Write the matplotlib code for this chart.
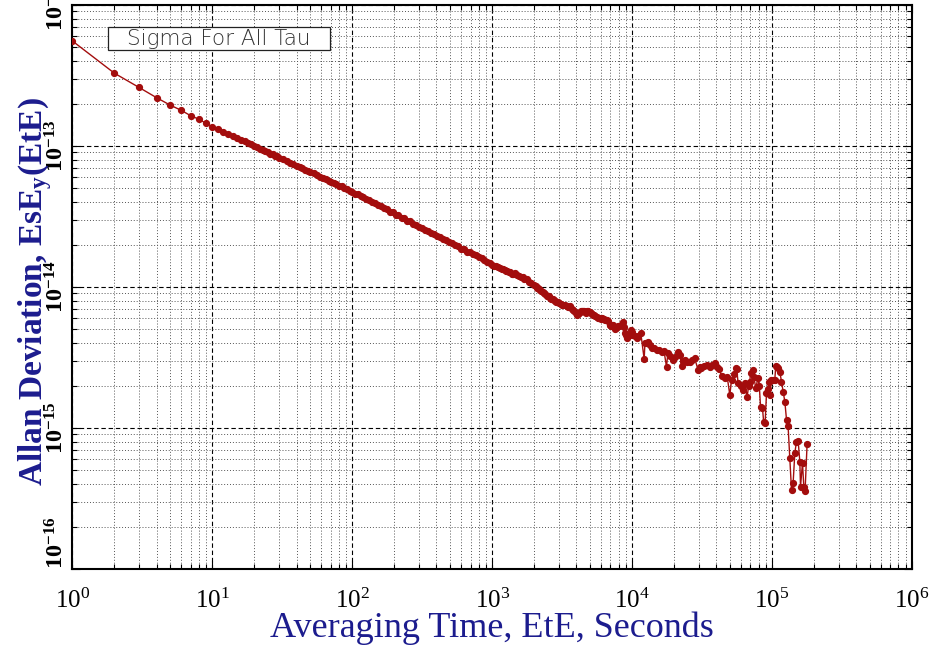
import numpy as np
import matplotlib
matplotlib.use("Agg")
import matplotlib.pyplot as plt
from matplotlib.patches import Rectangle
from matplotlib.ticker import LogLocator, FuncFormatter, NullFormatter

# averaging time tau (s) and Allan deviation (units of 1e-15)
tau = [
    1, 2, 3, 4, 5, 6, 7, 8, 9, 10,
    11, 12, 13, 14, 15, 16, 17, 18, 19, 20, 21, 22, 23, 24, 25, 26, 27, 28, 29, 30,
    32, 34, 36, 38, 40, 42, 44, 46, 48, 50, 53, 56, 59, 62, 65, 68, 71, 74, 77, 80,
    84, 88, 92, 96, 100,
    105, 110, 115, 120, 126, 132, 138, 145, 152, 160, 168, 176, 185, 194, 204, 214,
    225, 236, 248, 260, 273, 287, 301, 316, 332, 349, 366, 385, 404, 424, 445, 467,
    490, 515, 541, 568, 596, 626, 657, 690, 725, 761, 799, 839, 881, 925, 971, 1000,
    1035, 1070, 1100, 1135, 1170, 1200, 1225, 1250, 1280, 1310, 1340, 1376, 1410, 1450,
    1500, 1550, 1600, 1650, 1700, 1760, 1830, 1900, 2000, 2040, 2080, 2120, 2160, 2200,
    2250, 2300, 2350, 2400, 2450, 2500, 2550, 2600, 2650, 2700, 2760, 2820, 2880, 2940,
    3000, 3080, 3150, 3220, 3300, 3400, 3490, 3600, 3700, 3780, 3850, 3950, 4030, 4080,
    4150, 4220, 4300, 4380, 4470, 4530, 4600, 4680, 4750, 4870, 4990, 5070, 5150, 5220,
    5300, 5430, 5570, 5690, 5800, 5950, 6100, 6200, 6300, 6430, 6560, 6700, 6930, 7000,
    7100, 7200, 7310, 7490, 7650, 7800, 7950, 8100, 8300, 8540, 8700, 8870, 9050, 9210,
    9500, 9740, 9900, 10000,
    10400, 10750, 11100, 11530, 12190, 12340, 12700, 13010, 13400, 13760, 14300, 14940,
    15500, 16230, 16900, 17600, 18000, 18700, 19640, 20400, 21300, 21900, 22540, 23100,
    23780, 24800, 25810, 26900, 28030, 29580, 30400, 31300, 32600, 33990, 35900, 37400,
    38990, 40700, 42000, 43550, 45930, 47800, 49880, 51290, 53000, 55030, 56000, 57130,
    59500, 62080, 64000, 66240, 68000, 69290, 70130, 72440, 74000, 76500, 79080, 81000,
    82650, 85370, 87000, 89130, 91180, 93000, 95200, 96300, 99000, 101500, 104500, 106200,
    108000, 110300, 113500, 116700, 119900, 123300, 126800, 130100, 133800, 137600, 141300,
    145300, 149300, 153500, 157800, 159600, 164900, 168400, 172000, 177800,
]
adev_e15 = [
    556, 328, 260, 220, 195, 179, 164, 155, 145, 137,
    131.5, 126, 122, 117.6, 114.3, 110.7, 108.2, 105.1, 102.9, 99.8, 97.9, 95.5, 93.9, 91.7, 90.4, 88.3, 87.2, 85.3, 84.4, 82.6,
    80.6, 78.0, 76.3, 74.0, 72.7, 70.7, 69.6, 67.7, 66.8, 65.2, 63.8, 61.8, 60.7, 59.0, 58.1, 56.5, 55.8, 54.3, 53.7, 52.4,
    51.6, 50.1, 49.5, 48.1, 47.5,
    46.0, 45.3, 43.9, 43.4, 41.9, 41.3, 40.0, 39.3, 38.0, 37.4, 36.1, 35.6, 34.3, 33.9, 32.6, 32.2,
    31.0, 30.7, 29.5, 29.2, 28.1, 27.7, 26.7, 26.4, 25.3, 25.1, 24.1, 23.9, 22.9, 22.7, 21.8, 21.6,
    20.7, 20.6, 19.7, 19.6, 18.7, 18.6, 17.8, 17.7, 17.0, 16.9, 16.2, 16.0, 15.6, 15.0, 14.9, 14.3,
    14.1, 14.0, 13.9, 13.6, 13.4, 13.5, 13.3, 13.0, 12.9, 12.8, 12.7, 12.4, 12.3, 12.5,
    12.1, 11.9, 11.8, 11.7, 11.4, 11.4, 10.8, 10.6, 10.3, 10.1, 9.9, 9.8, 9.6, 9.5,
    9.3, 9.2, 9.1, 8.9, 8.7, 8.7, 8.6, 8.4, 8.2, 8.2, 8.1, 7.95, 7.8, 7.8,
    7.7, 7.6, 7.5, 7.45, 7.4, 7.3, 7.2, 7.3, 7.0, 6.9, 6.7, 6.5, 6.3, 6.4,
    6.5, 6.6, 6.7, 6.75, 6.8, 6.75, 6.6, 6.55, 6.7, 6.7, 6.6, 6.5, 6.4, 6.35,
    6.3, 6.2, 6.1, 6.05, 6.0, 5.95, 6.0, 5.95, 5.9, 5.85, 5.8, 5.7, 5.4, 5.35,
    5.3, 5.4, 5.35, 5.0, 5.1, 5.2, 5.3, 5.3, 5.4, 5.6, 5.2, 4.7, 4.55, 4.33,
    4.6, 4.95, 4.8, 4.6,
    4.5, 4.33, 4.5, 4.7, 3.08, 3.99, 4.0, 4.09, 3.85, 3.67, 3.7, 3.59,
    3.6, 3.47, 3.5, 2.72, 3.4, 3.25, 3.03, 3.2, 3.47, 3.3, 2.76, 3.0,
    3.03, 2.95, 2.95, 3.05, 3.11, 2.58, 2.7, 2.65, 2.75, 2.8, 2.72, 2.8,
    2.88, 2.72, 2.6, 2.34, 2.25, 2.3, 1.71, 2.19, 2.4, 2.65, 2.6, 2.07,
    2.0, 1.86, 2.1, 1.65, 2.0, 2.13, 2.45, 2.58, 2.31, 1.91, 2.25, 2.0,
    1.42, 1.38, 1.11, 1.08, 1.76, 1.9, 2.13, 1.70, 2.19, 2.2, 2.19, 2.75,
    2.7, 2.65, 2.51, 2.13, 1.81, 1.54, 1.14, 1.03, 0.61, 0.363, 0.405,
    0.662, 0.80, 0.81, 0.577, 0.384, 0.567, 0.384, 0.357, 0.766,
]

navy = "#1c1c8e"
red = "#a30d0d"

plt.rcParams["font.family"] = ["Liberation Serif", "DejaVu Serif"]
plt.rcParams["mathtext.fontset"] = "custom"
plt.rcParams["mathtext.rm"] = "Liberation Serif"
plt.rcParams["mathtext.it"] = "Liberation Serif:italic"
plt.rcParams["mathtext.bf"] = "Liberation Serif:bold"

fig = plt.figure(figsize=(9.32, 6.47), dpi=100)
ax = fig.add_axes([0.0776, 0.1206, 0.9010, 0.8717])

ax.plot(tau, np.array(adev_e15) * 1e-15, color=red, lw=1.0,
        marker="o", ms=4.2, mec=red, mfc=red, zorder=3)

ax.set_xscale("log")
ax.set_yscale("log")
ax.set_xlim(1, 1e6)
ax.set_ylim(1e-16, 1e-12)

ax.xaxis.set_major_locator(LogLocator(base=10, numticks=10))
ax.yaxis.set_major_locator(LogLocator(base=10, numticks=10))
ax.xaxis.set_minor_locator(LogLocator(base=10, subs=np.arange(2, 10), numticks=20))
ax.yaxis.set_minor_locator(LogLocator(base=10, subs=np.arange(2, 10), numticks=20))
ax.xaxis.set_minor_formatter(NullFormatter())
ax.yaxis.set_minor_formatter(NullFormatter())
ax.xaxis.set_major_formatter(FuncFormatter(lambda v, p: r"$10^{%d}$" % round(np.log10(v))))
ax.yaxis.set_major_formatter(FuncFormatter(lambda v, p: r"$\mathbf{10^{%d}}$" % round(np.log10(v))))

ax.grid(True, which="major", color="black", lw=0.8, ls=(0, (4, 2.5)))
ax.grid(True, which="minor", color="#555555", lw=0.7, ls=(0, (1, 2)))

ax.tick_params(which="both", direction="in", top=True, right=True, width=0.8)
ax.tick_params(which="major", length=6)
ax.tick_params(which="minor", length=3.5)
ax.tick_params(axis="x", which="major", labelsize=18, pad=14)
ax.tick_params(axis="y", which="major", labelsize=17.5, pad=3, labelrotation=90)
for s in ax.spines.values():
    s.set_linewidth(1.5)

fig.text(0.528, 0.0155, "Averaging Time, EtE, Seconds", color=navy,
         fontsize=26, ha="center", va="baseline")
fig.text(42 / 932, 0.5495, r"Allan Deviation, EsE$_{\mathbf{y}}$(EtE)", color=navy,
         fontsize=24, fontweight="bold", rotation=90, rotation_mode="anchor",
         ha="center", va="baseline")

# legend-like label box in the upper left corner
fig.add_artist(Rectangle((108 / 932, 1 - 50 / 647), 222 / 932, 23 / 647,
                         transform=fig.transFigure, fc="white", ec="#222222", lw=0.9))
fig.text(219 / 932, 1 - 39 / 647, "Sigma For All Tau", family=["DejaVu Sans"],
         fontweight="light", fontsize=15.5, color="#333333", ha="center", va="center")

# y tick labels centred on their ticks, the lowest one lifted above the bottom edge
fig.canvas.draw()
for lab in ax.get_yticklabels():
    lab.set_va("center")
    if "-16" in lab.get_text():
        lab.set_va("bottom")

fig.savefig("out.png", dpi=100)
